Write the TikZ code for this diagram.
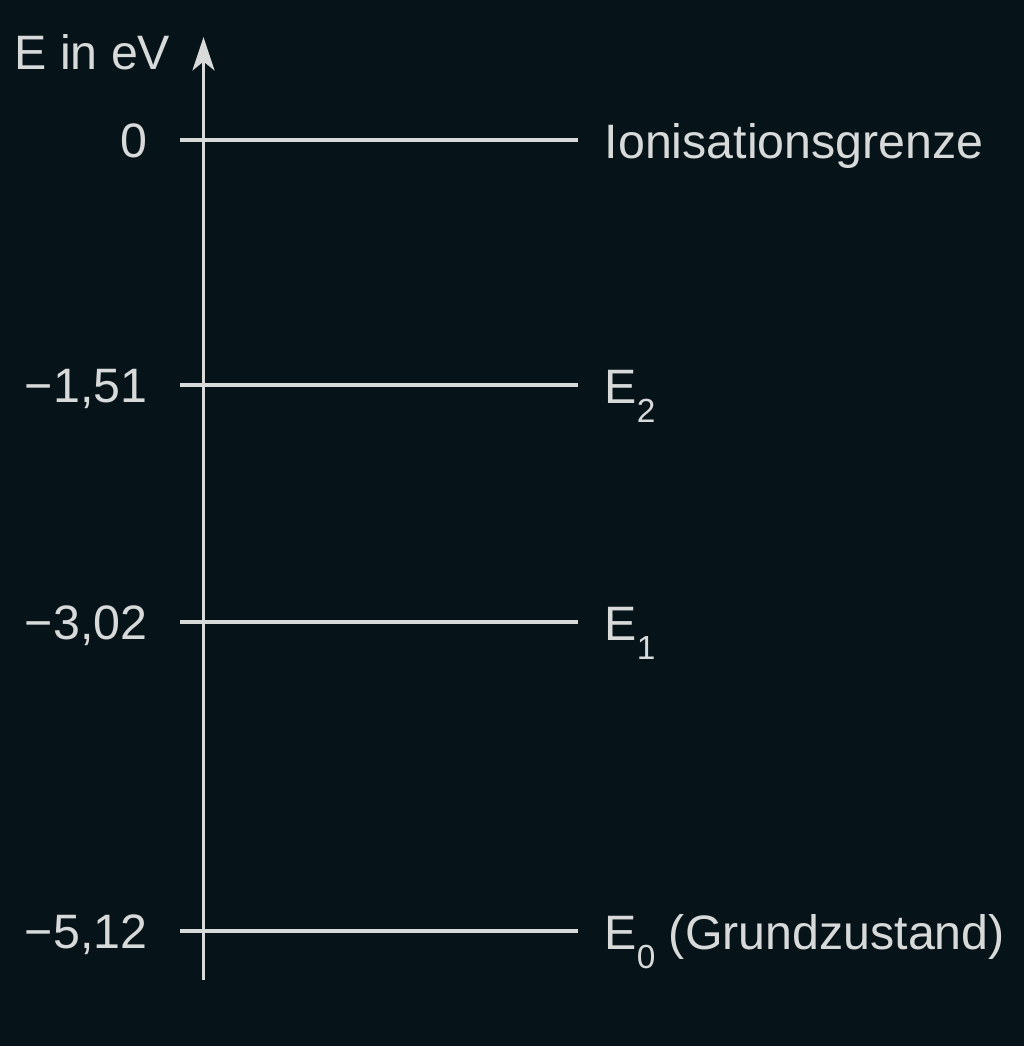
\documentclass[tikz,border=0pt]{standalone}
\usepackage{fontspec}
\setmainfont{Liberation Sans}
\usetikzlibrary{arrows.meta, positioning}
\definecolor{bgdark}{HTML}{06141A}
\definecolor{fgline}{HTML}{D8DADA}
\tikzset{>={Stealth[length=19pt,width=12.5pt,inset=5pt]}}
\newcommand{\lowidx}[1]{\raisebox{-0.40em}{\fontsize{19}{21}\selectfont #1}}

\begin{document}
\begin{tikzpicture}[line width=2pt, draw=fgline, text=fgline, font=\fontsize{27.5}{32}\selectfont]
    \fill[bgdark] (0,0) rectangle (20.48,20.92);
    \useasboundingbox (0,0) rectangle (20.48,20.92);

    % energy axis
    \coordinate (axbot) at (4.07,1.32);
    \coordinate (axtop) at (4.07,20.18);
    \draw[->] (axbot) -- (axtop);
    \node (axlabel) at (3.44,19.52)[anchor=base east, inner sep=0pt]{E in eV};

    % levels
    \foreach \y/\val/\name/\lbl in {18.12/{0}/lion/{Ionisationsgrenze},
        13.22/{−1,51}/ltwo/{E\lowidx{2}},
        8.48/{−3,02}/lone/{E\lowidx{1}},
        2.30/{−5,12}/lnull/{E\lowidx{0} (Grundzustand)}}
    {\coordinate (\name-a) at (3.60,\y);
    \coordinate (\name-b) at (11.56,\y);
    \draw (\name-a) -- (\name-b);
    \node (\name-val) at (2.98,\y-0.36)[anchor=base east, inner sep=0pt]{\val};
    \node (\name-lbl) at (12.06,\y-0.37)[anchor=base west, inner sep=0pt]{\lbl}; }

\end{tikzpicture}
\end{document}
